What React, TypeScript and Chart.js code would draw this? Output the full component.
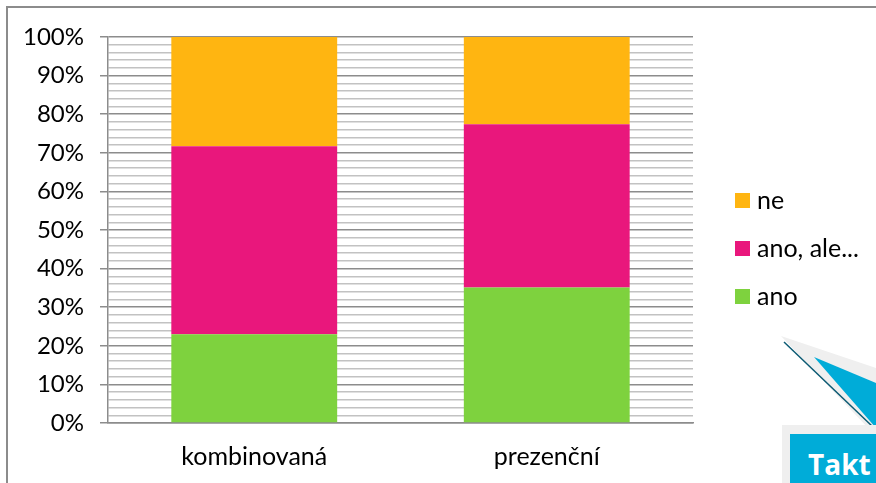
import React, { useEffect, useRef } from "react";
import { Chart, registerables } from "chart.js";

Chart.register(...registerables);

const categories = ["kombinovaná", "prezenční"];
const seriesLabels = ["ano", "ano, ale...", "ne"];
const anoValues = [23.0, 35.1];
const anoAleValues = [48.7, 42.3];
const neValues = [28.3, 22.6];
const seriesColors = ["#7ED23E", "#E9177C", "#FFB511"];
const yMajorTicks = [0, 10, 20, 30, 40, 50, 60, 70, 80, 90, 100];

const FONT = "Lato, 'Open Sans', sans-serif";

const legendPlugin = {
  id: "sideLegend",
  afterDraw(chart: any) {
    const ctx = chart.ctx;
    const area = chart.chartArea;
    const order = [2, 1, 0];
    const x0 = area.right + 42;
    const yStart = 193;
    const gap = 48;
    ctx.save();
    ctx.font = `25px ${FONT}`;
    ctx.textBaseline = "middle";
    ctx.textAlign = "left";
    order.forEach((di, i) => {
      const ds = chart.data.datasets[di];
      const y = yStart + i * gap;
      ctx.fillStyle = ds.backgroundColor;
      ctx.fillRect(x0, y, 15, 15);
      ctx.fillStyle = "#000";
      ctx.fillText(ds.label, x0 + 22, y + 8);
    });
    ctx.restore();
  },
};

function App() {
  const ref = useRef<HTMLCanvasElement | null>(null);

  useEffect(() => {
    document.body.style.margin = "0";
    const canvas = ref.current;
    if (!canvas) return;
    const chart = new Chart(canvas, {
      type: "bar",
      data: {
        labels: categories,
        datasets: [
          { label: seriesLabels[0], data: anoValues, backgroundColor: seriesColors[0] },
          { label: seriesLabels[1], data: anoAleValues, backgroundColor: seriesColors[1] },
          { label: seriesLabels[2], data: neValues, backgroundColor: seriesColors[2] },
        ],
      },
      options: {
        responsive: false,
        animation: false,
        devicePixelRatio: 1,
        layout: { padding: { left: 0, right: 183, top: 37, bottom: 0 } },
        datasets: { bar: { barPercentage: 0.567, categoryPercentage: 1 } },
        plugins: { legend: { display: false }, tooltip: { enabled: false } },
        scales: {
          x: {
            stacked: true,
            grid: { display: false, drawTicks: false },
            border: { display: true, color: "#8c8c8c", width: 1.5 },
            ticks: { color: "#000", font: { family: FONT, size: 25 }, padding: 19 },
            afterFit: (s: any) => {
              s.height = 60;
            },
          },
          y: {
            stacked: true,
            min: 0,
            max: 100,
            ticks: {
              stepSize: 2,
              autoSkip: false,
              color: "#000",
              font: { family: FONT, size: 24 },
              padding: 16,
              callback: (v: any) => (yMajorTicks.includes(Number(v)) ? `${v}%` : ""),
            },
            grid: {
              color: (c: any) => (c.tick && c.tick.value % 10 === 0 ? "#8c8c8c" : "#c2c2c2"),
              tickColor: (c: any) => (c.tick && c.tick.value % 10 === 0 ? "#8c8c8c" : "rgba(0,0,0,0)"),
              tickLength: 8,
              lineWidth: 1.5,
            },
            border: { display: true, color: "#8c8c8c", width: 1.5 },
            afterFit: (s: any) => {
              s.width = 108;
            },
          },
        },
      },
      plugins: [legendPlugin],
    });
    return () => chart.destroy();
  }, []);

  return (
    <div style={{ position: "fixed", left: 0, top: 0, width: 876, height: 483, overflow: "hidden", background: "#fff" }}>
      <div
        style={{
          position: "absolute",
          left: 6,
          top: 6,
          width: 1000,
          height: 1000,
          borderLeft: "2px solid #8c8c8c",
          borderTop: "2px solid #8c8c8c",
        }}
      />
      <canvas ref={ref} width={876} height={483} style={{ position: "absolute", left: 0, top: 0 }} />
      <svg width={876} height={483} style={{ position: "absolute", left: 0, top: 0, pointerEvents: "none" }}>
        <polygon points="781,336 876,368 876,432 870,430" fill="#efefef" />
        <line x1={784} y1={342} x2={873} y2={427} stroke="#0b5a73" strokeWidth={1.5} />
        <polygon points="814,357 876,383 876,428" fill="#00acd8" />
        <rect x={782} y={425} width={100} height={60} fill="#efefef" />
        <rect x={790} y={434} width={100} height={60} fill="#00acd8" />
        <text x={808} y={475} fill="#fff" fontFamily="'Open Sans', sans-serif" fontWeight="bold" fontSize={28}>
          Takt
        </text>
      </svg>
    </div>
  );
}

export default App;
